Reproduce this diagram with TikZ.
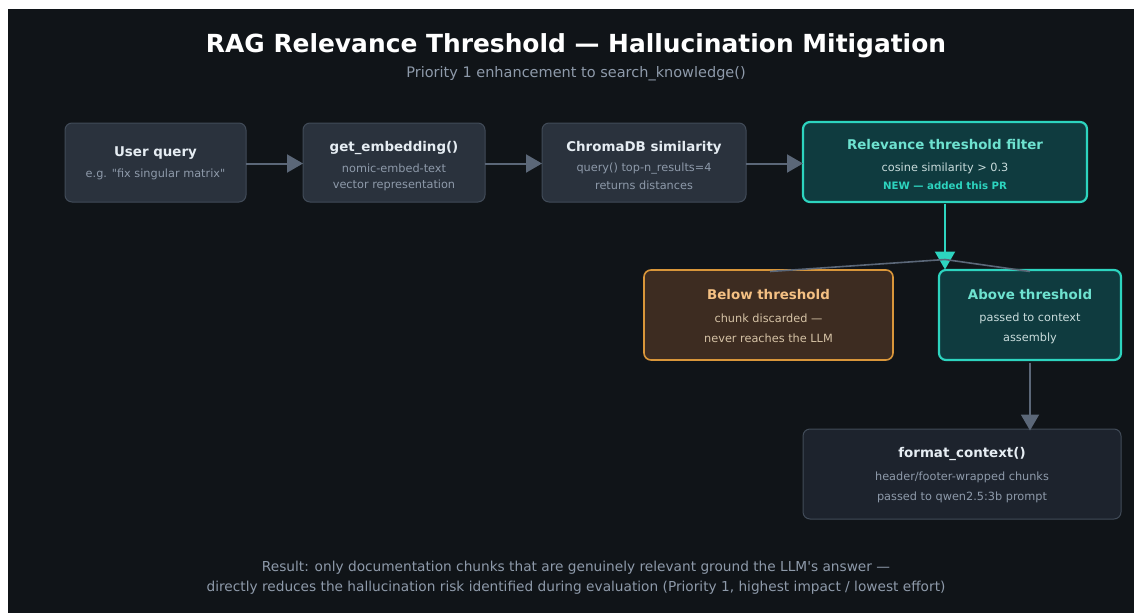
\documentclass[tikz,border=0pt]{standalone}
\usepackage{fontspec}
\setmainfont{DejaVu Sans}[Ligatures=TeXOff]
\usetikzlibrary{arrows.meta}
\definecolor{bgdark}{HTML}{101418}
\definecolor{boxfill}{HTML}{2A323D}
\definecolor{boxline}{HTML}{414B58}
\definecolor{fmtfill}{HTML}{1D232D}
\definecolor{titlecol}{HTML}{E6EDF3}
\definecolor{subcol}{HTML}{8E9AAA}
\definecolor{arrowcol}{HTML}{5B6778}
\definecolor{teal}{HTML}{2DD4BF}
\definecolor{tealfill}{HTML}{0F3B3F}
\definecolor{tealtext}{HTML}{6EE2D0}
\definecolor{tealsub}{HTML}{C9DCDC}
\definecolor{orangeline}{HTML}{D9963A}
\definecolor{orangefill}{HTML}{3D2C21}
\definecolor{orangetext}{HTML}{F4C083}
\definecolor{orangesub}{HTML}{D6C3A6}
\tikzset{
  x=1pt, y=-1pt,
  every node/.style={yshift=-1.5pt},
  card/.style={draw=boxline, line width=1pt, fill=boxfill, rounded corners=7pt},
  tealcard/.style={draw=teal, line width=2.2pt, fill=tealfill, rounded corners=7pt},
  orangecard/.style={draw=orangeline, line width=1.6pt, fill=orangefill, rounded corners=7pt},
  fmtcard/.style={draw=boxline, line width=1pt, fill=fmtfill, rounded corners=7pt},
  ttl/.style={font=\bfseries\fontsize{13.4}{15}\selectfont, text=titlecol},
  sub/.style={font=\fontsize{11.3}{13}\selectfont, text=subcol},
  flow/.style={draw=arrowcol, line width=2pt, -{Triangle[length=16pt,width=18pt]}},
}
\begin{document}
\begin{tikzpicture}
\useasboundingbox (0,0) rectangle (1135,613);
\fill[white] (0,0) rectangle (1135,613);
\fill[bgdark] (8,9) rectangle (1134,613);

% title
\node[font=\bfseries\fontsize{24.9}{28}\selectfont, text=white] (title) at (576,44) {RAG Relevance Threshold — Hallucination Mitigation};
\node[font=\fontsize{14.5}{16}\selectfont, text=subcol] (subtitle) at (576,72) {Priority 1 enhancement to search\_knowledge()};

% boxes row 1
\path[card] (65,123) rectangle (246,202);
\node[ttl] (q1) at (155.5,152) {User query};
\node[sub] (q2) at (155.5,173) {e.g. "fix singular matrix"};
\coordinate (qR) at (246,162);

\path[card] (303,123) rectangle (485,202);
\node[ttl] (e1) at (394,146) {get\_embedding()};
\node[sub] (e2) at (394,167) {nomic-embed-text};
\node[sub] (e3) at (394,184) {vector representation};
\coordinate (eL) at (303,162);
\coordinate (eR) at (485,162);

\path[card] (542,123) rectangle (746,202);
\node[ttl] (c1) at (644,146) {ChromaDB similarity};
\node[sub] (c2) at (644,167) {query() top-n\_results=4};
\node[sub] (c3) at (644,184) {returns distances};
\coordinate (cL) at (542,162);
\coordinate (cR) at (746,162);

\path[tealcard] (803,122) rectangle (1087,202);
\node[ttl, text=tealtext] (r1) at (945,143) {Relevance threshold filter};
\node[sub, text=tealsub] (r2) at (945,167) {cosine similarity > 0.3};
\node[font=\bfseries\fontsize{10.2}{12}\selectfont, text=teal] (r3) at (945,184) {NEW — added this PR};
\coordinate (rL) at (803,162);
\coordinate (rB) at (945,202);

% row 2
\path[orangecard] (644,270) rectangle (893,360);
\node[ttl, text=orangetext] (b1) at (768.5,293) {Below threshold};
\node[sub, text=orangesub] (b2) at (768.5,317) {chunk discarded —};
\node[sub, text=orangesub] (b3) at (768.5,337) {never reaches the LLM};
\coordinate (bT) at (770,270);

\path[tealcard] (939,270) rectangle (1121,360);
\node[ttl, text=tealtext] (a1) at (1030,293) {Above threshold};
\node[sub, text=tealsub] (a2) at (1030,317) {passed to context};
\node[sub, text=tealsub] (a3) at (1030,337) {assembly};
\coordinate (aT) at (1030,270);
\coordinate (aB) at (1030,361);

% format box
\path[fmtcard] (803,429) rectangle (1121,519);
\node[ttl] (f1) at (962,452) {format\_context()};
\node[sub] (f2) at (962,476) {header/footer-wrapped chunks};
\node[sub] (f3) at (962,496) {passed to qwen2.5:3b prompt};
\coordinate (fT) at (1030,429);

% connectors
\draw[flow] (qR) -- (eL);
\draw[flow] (eR) -- (cL);
\draw[flow] (cR) -- (rL);
\coordinate (split) at (945,268);
\draw[draw=teal, line width=2.2pt, -{Triangle[length=18pt,width=20pt]}] (rB) -- (split);
\coordinate (fork) at (945,258);
\draw[draw=arrowcol, line width=1.6pt] (bT) -- (fork) -- (aT);
\draw[flow] (aB) -- (fT);

% footer
\node[font=\fontsize{13.7}{16}\selectfont, text=subcol] (foot1) at (576,566) {Result: only documentation chunks that are genuinely relevant ground the LLM's answer —};
\node[font=\fontsize{13.7}{16}\selectfont, text=subcol] (foot2) at (576,586) {directly reduces the hallucination risk identified during evaluation (Priority 1, highest impact / lowest effort)};
\end{tikzpicture}
\end{document}
